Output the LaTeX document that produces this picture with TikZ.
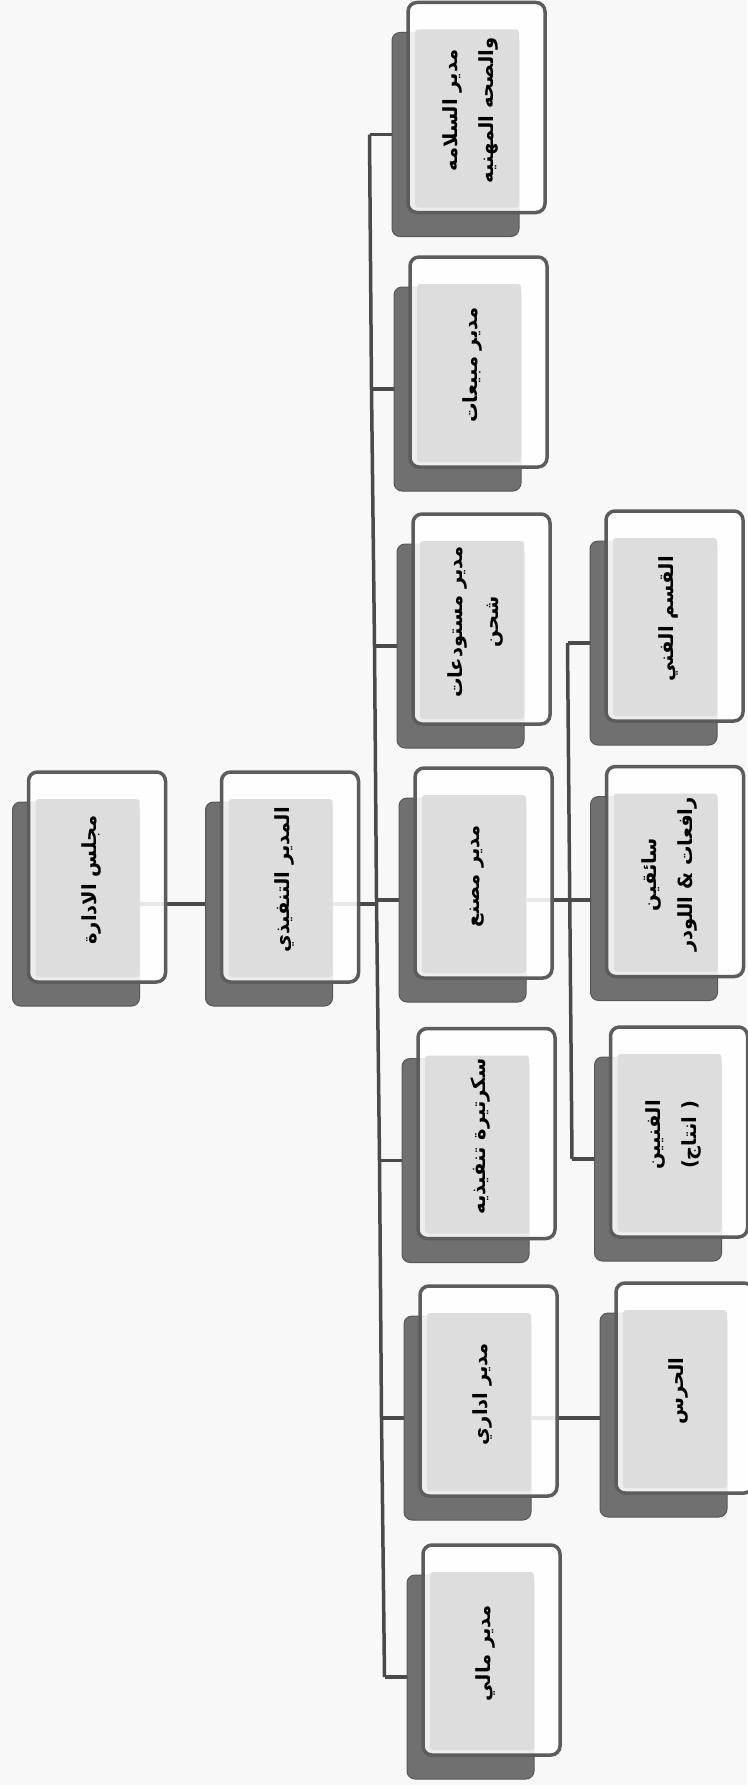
\documentclass[tikz,border=0pt]{standalone}
\usepackage{fontspec}
\usepackage{xcolor}
\newfontfamily\arabicfont[Script=Arabic]{DejaVu Sans}
\TeXXeTstate=1
\usetikzlibrary{calc}

\definecolor{pagebg}{HTML}{F8F8F8}
\definecolor{shadowfill}{HTML}{707070}
\definecolor{shadowline}{HTML}{585858}
\definecolor{frontline}{HTML}{5C5C5C}
\definecolor{innergray}{HTML}{DDDDDD}
\definecolor{linkgray}{HTML}{4A4A4A}

\pgfdeclarelayer{bg}
\pgfsetlayers{bg,main}

\tikzset{
  shadowbox/.style={draw=shadowline, fill=shadowfill, line width=1pt, rounded corners=8pt,
    minimum width=127pt, minimum height=204pt, inner sep=0pt},
  frontbox/.style={draw=frontline, fill=white, fill opacity=0.88, line width=3.5pt, rounded corners=9pt,
    minimum width=137pt, minimum height=210pt, inner sep=0pt},
  innerbox/.style={fill=innergray, rounded corners=3pt, minimum width=104pt, minimum height=178pt, inner sep=0pt},
  boxtext/.style={rotate=90, align=center, inner sep=0pt,
    font=\arabicfont\bfseries\fontsize{19.5}{36}\selectfont},
  link/.style={draw=linkgray, line width=3.5pt},
}

% one chart box: name, x, y, text
\newcommand{\orgbox}[4]{%
  \node[shadowbox] (#1-s) at (#2-21,#3+27) {};
  \node[frontbox] (#1) at (#2,#3) {};
  \node[innerbox] (#1-i) at (#2-9.5,#3+11) {};
  \node[boxtext] (#1-t) at (#2-6,#3+3) {#4};
}

\begin{document}
\begin{tikzpicture}[x=1pt, y=-1pt]
  \useasboundingbox (0,0) rectangle (747,1785);
  \begin{pgfonlayer}{bg}
    \fill[pagebg] (0,0) rectangle (747,1785);
  \end{pgfonlayer}

  % top of the chart
  \orgbox{brd}{97}{877}{\beginR مجلس الادارة\endR}
  \orgbox{ceo}{290}{877}{\beginR المدير التنفيذي\endR}

  % managers
  \orgbox{m1}{476.5}{107.5}{\beginR مدير السلامه\endR\\\beginR والصحه المهنيه\endR}
  \orgbox{m2}{478.5}{362}{\beginR مدير مبيعات\endR}
  \orgbox{m3}{481.5}{619}{\beginR مدير مستودعات\endR\\\beginR شحن\endR}
  \orgbox{m4}{483.5}{873}{\beginR مدير مصنع\endR}
  \orgbox{m5}{486.5}{1133.5}{\beginR سكرتيرة تنفيذيه\endR}
  \orgbox{m6}{488.5}{1391}{\beginR مدير اداري\endR}
  \orgbox{m7}{491.5}{1650}{\beginR مدير مالي\endR}

  % staff
  \orgbox{tec}{674.5}{616}{\beginR القسم الفني\endR}
  \orgbox{drv}{675}{871.5}{\beginR سائقين\endR\\\beginR رافعات \& اللودر\endR}
  \orgbox{lab}{679}{1132}{\beginR الفنيين\endR\\\beginR ( انتاج)\endR}
  \orgbox{grd}{684.5}{1388}{\beginR الحرس\endR}

  % bus points
  \foreach \m in {1,...,7}
    \coordinate (b\m) at ($(m\m-s.west)+(-22,0)$);
  \coordinate (s1) at ($(tec-s.west)+(-22,0)$);
  \coordinate (s3) at ($(lab-s.west)+(-22,0)$);

  % connectors
  \begin{pgfonlayer}{bg}
    \draw[link] (brd-s.east) -- (brd-s.east -| ceo-s.west);
    \draw[link] (ceo-s.east) -- (ceo-s.east -| b4);
    \draw[link] (b1) -- (b2) -- (b3) -- (b4) -- (b5) -- (b6) -- (b7);
    \foreach \m in {1,...,7}
      \draw[link] (b\m) -- (m\m-s.west);
    \draw[link] (m4-s.east) -- (m4-s.east -| drv-s.west);
    \draw[link] (s1) -- (s3);
    \draw[link] (s1) -- (tec-s.west);
    \draw[link] (s3) -- (lab-s.west);
    \draw[link] (m6-s.east) -- (m6-s.east -| grd-s.west);
  \end{pgfonlayer}
\end{tikzpicture}
\end{document}
